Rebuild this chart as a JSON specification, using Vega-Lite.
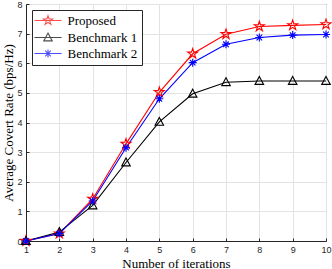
{
  "$schema": "https://vega.github.io/schema/vega-lite/v6.json",
  "width": 300,
  "height": 237,
  "autosize": {"type": "none"},
  "padding": {"left": 26, "top": 4, "right": 6, "bottom": 28},
  "background": "white",
  "config": {
    "view": {"stroke": "#262626", "strokeWidth": 1},
    "axis": {
      "gridColor": "#e3e3e3",
      "gridWidth": 1,
      "domainColor": "#262626",
      "tickColor": "#262626",
      "labelColor": "#262626",
      "labelFont": "Liberation Sans",
      "labelFontSize": 9,
      "titleFont": "Liberation Serif",
      "titleFontSize": 13,
      "titleFontWeight": "normal",
      "titleColor": "#000000"
    },
    "legend": {
      "padding": 4,
      "strokeColor": "#262626",
      "fillColor": "white",
      "labelFont": "Liberation Serif",
      "labelFontSize": 13,
      "labelColor": "#000000",
      "rowPadding": 2
    }
  },
  "data": {
    "values": [
      {"iter": 1, "series": "Proposed", "rate": 0.0},
      {"iter": 2, "series": "Proposed", "rate": 0.25},
      {"iter": 3, "series": "Proposed", "rate": 1.42},
      {"iter": 4, "series": "Proposed", "rate": 3.28},
      {"iter": 5, "series": "Proposed", "rate": 5.02},
      {"iter": 6, "series": "Proposed", "rate": 6.32},
      {"iter": 7, "series": "Proposed", "rate": 6.98},
      {"iter": 8, "series": "Proposed", "rate": 7.24},
      {"iter": 9, "series": "Proposed", "rate": 7.28},
      {"iter": 10, "series": "Proposed", "rate": 7.31},
      {"iter": 1, "series": "Benchmark 1", "rate": 0.0},
      {"iter": 2, "series": "Benchmark 1", "rate": 0.3},
      {"iter": 3, "series": "Benchmark 1", "rate": 1.2},
      {"iter": 4, "series": "Benchmark 1", "rate": 2.65},
      {"iter": 5, "series": "Benchmark 1", "rate": 4.02},
      {"iter": 6, "series": "Benchmark 1", "rate": 4.97},
      {"iter": 7, "series": "Benchmark 1", "rate": 5.36},
      {"iter": 8, "series": "Benchmark 1", "rate": 5.4},
      {"iter": 9, "series": "Benchmark 1", "rate": 5.4},
      {"iter": 10, "series": "Benchmark 1", "rate": 5.4},
      {"iter": 1, "series": "Benchmark 2", "rate": 0.0},
      {"iter": 2, "series": "Benchmark 2", "rate": 0.25},
      {"iter": 3, "series": "Benchmark 2", "rate": 1.35},
      {"iter": 4, "series": "Benchmark 2", "rate": 3.15},
      {"iter": 5, "series": "Benchmark 2", "rate": 4.8},
      {"iter": 6, "series": "Benchmark 2", "rate": 6.02},
      {"iter": 7, "series": "Benchmark 2", "rate": 6.64},
      {"iter": 8, "series": "Benchmark 2", "rate": 6.87},
      {"iter": 9, "series": "Benchmark 2", "rate": 6.95},
      {"iter": 10, "series": "Benchmark 2", "rate": 6.97}
    ]
  },
  "encoding": {
    "x": {
      "field": "iter", "type": "quantitative",
      "scale": {"domain": [1, 10], "nice": false, "zero": false},
      "axis": {"values": [1,2,3,4,5,6,7,8,9,10], "title": "Number of iterations", "tickSize": -3, "labelPadding": 7, "titlePadding": 3, "labelFlush": false}
    },
    "y": {
      "field": "rate", "type": "quantitative",
      "scale": {"domain": [0, 8], "nice": false},
      "axis": {"values": [0,1,2,3,4,5,6,7,8], "title": "Average Covert Rate (bps/Hz)", "tickSize": -3, "labelPadding": 7, "titlePadding": 1, "labelFlush": false}
    }
  },
  "layer": [
    {
      "transform": [{"filter": "datum.series === 'Proposed'"}],
      "mark": {"type": "line", "strokeWidth": 1.1, "color": "#ff0000"}
    },
    {
      "transform": [{"filter": "datum.series === 'Benchmark 1'"}],
      "mark": {"type": "line", "strokeWidth": 1.1, "color": "#000000"}
    },
    {
      "transform": [{"filter": "datum.series === 'Benchmark 2'"}],
      "mark": {"type": "line", "strokeWidth": 1.1, "color": "#0000ff"}
    },
    {
      "transform": [{"filter": "datum.series === 'Proposed'"}],
      "mark": {"type": "point", "filled": false, "strokeWidth": 1.1, "size": 110, "opacity": 1, "color": "#ff0000",
        "shape": "M0,-1L0.225,-0.309L0.951,-0.309L0.363,0.118L0.588,0.809L0,0.382L-0.588,0.809L-0.363,0.118L-0.951,-0.309L-0.225,-0.309Z"}
    },
    {
      "transform": [{"filter": "datum.series === 'Benchmark 1'"}],
      "mark": {"type": "point", "filled": false, "strokeWidth": 1.1, "size": 81, "opacity": 1, "color": "#000000",
        "shape": "M0,-1L0.95,0.75L-0.95,0.75Z"}
    },
    {
      "transform": [{"filter": "datum.series === 'Benchmark 2'"}],
      "mark": {"type": "point", "filled": false, "strokeWidth": 1.1, "size": 64, "opacity": 1, "color": "#0000ff",
        "shape": "M0,-1L0,1M-1,0L1,0M-0.7,-0.7L0.7,0.7M-0.7,0.7L0.7,-0.7"}
    },
    {
      "mark": {"type": "point", "filled": false, "strokeWidth": 1.1, "size": 0},
      "encoding": {
        "color": {
          "field": "series", "type": "nominal",
          "scale": {"domain": ["Proposed", "Benchmark 1", "Benchmark 2"], "range": ["#ff0000", "#000000", "#0000ff"]},
          "legend": {
            "title": null, "orient": "top-left", "offset": 6,
            "symbolSize": 64, "symbolOffset": 5.5, "labelOffset": 13, "symbolStrokeWidth": 1.1
          }
        },
        "shape": {
          "field": "series", "type": "nominal",
          "scale": {"domain": ["Proposed", "Benchmark 1", "Benchmark 2"], "range": [
            "M-3.4,0L3.4,0M0,-1.2L0.27,-0.37L1.14,-0.37L0.44,0.14L0.71,0.97L0,0.46L-0.71,0.97L-0.44,0.14L-1.14,-0.37L-0.27,-0.37Z",
            "M-3.4,0L3.4,0M0,-1.1L1.05,0.85L-1.05,0.85Z",
            "M-3.4,0L3.4,0M0,-1L0,1M-0.7,-0.7L0.7,0.7M-0.7,0.7L0.7,-0.7"
          ]},
          "legend": {
            "title": null, "orient": "top-left", "offset": 6,
            "symbolSize": 64, "symbolOffset": 5.5, "labelOffset": 13, "symbolStrokeWidth": 1.1
          }
        }
      }
    }
  ]
}
